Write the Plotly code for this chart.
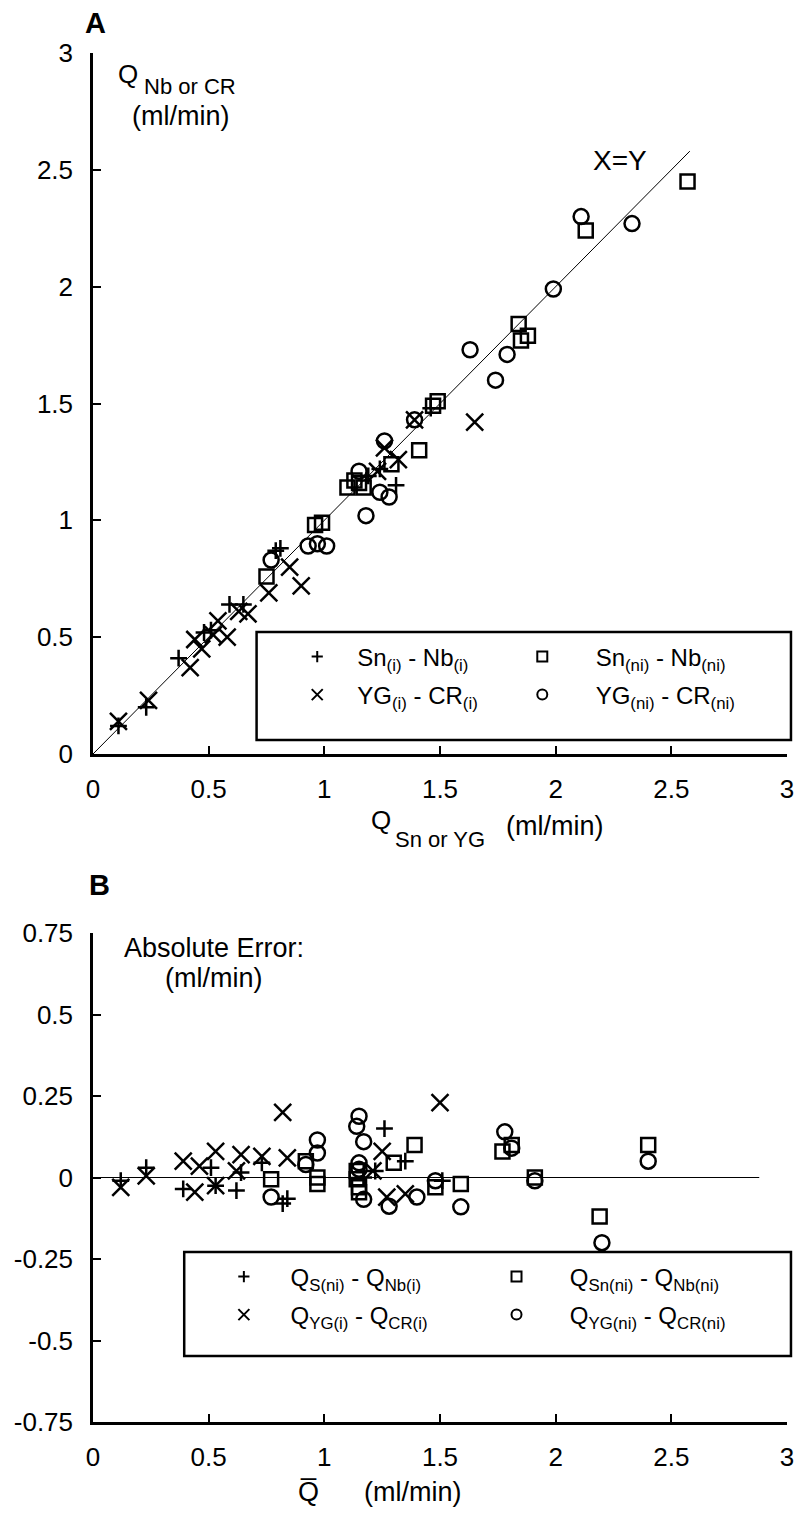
import plotly.graph_objects as go

# ---- panel A: Q_Nb or CR vs Q_Sn or YG (ml/min) ----
sn_i_x = [0.11, 0.23, 0.37, 0.48, 0.51, 0.59, 0.65, 0.79, 0.81, 1.19, 1.24, 1.31, 1.46]
sn_i_y = [0.12, 0.20, 0.41, 0.52, 0.53, 0.64, 0.64, 0.87, 0.88, 1.19, 1.22, 1.15, 1.48]

yg_i_x = [0.11, 0.24, 0.42, 0.44, 0.47, 0.52, 0.54, 0.58, 0.63, 0.67, 0.76, 0.85, 0.90,
          1.23, 1.26, 1.32, 1.39, 1.65]
yg_i_y = [0.14, 0.23, 0.37, 0.49, 0.45, 0.51, 0.57, 0.50, 0.61, 0.60, 0.69, 0.80, 0.72,
          1.21, 1.31, 1.26, 1.43, 1.42]

sn_ni_x = [0.75, 0.96, 0.99, 1.10, 1.13, 1.15, 1.17, 1.29, 1.41, 1.47, 1.49, 1.84, 1.85,
           1.88, 2.13, 2.57]
sn_ni_y = [0.76, 0.98, 0.99, 1.14, 1.17, 1.16, 1.14, 1.24, 1.30, 1.49, 1.51, 1.84, 1.77,
           1.79, 2.24, 2.45]

yg_ni_x = [0.77, 0.93, 0.97, 1.01, 1.15, 1.18, 1.24, 1.26, 1.28, 1.39, 1.63, 1.74, 1.79,
           1.99, 2.11, 2.33]
yg_ni_y = [0.83, 0.89, 0.90, 0.89, 1.21, 1.02, 1.12, 1.34, 1.10, 1.43, 1.73, 1.60, 1.71,
           1.99, 2.30, 2.27]

diag_x = [0, 2.58]
diag_y = [0, 2.58]

# ---- panel B: absolute error vs mean Q (ml/min) ----
err_s_x = [0.12, 0.23, 0.39, 0.51, 0.53, 0.62, 0.64, 0.73, 0.82, 0.84, 1.17, 1.22, 1.26,
           1.35, 1.51]
err_s_y = [-0.01, 0.03, -0.035, 0.03, -0.025, -0.04, 0.015, 0.045, -0.08, -0.065, 0.0,
           0.02, 0.15, 0.05, -0.01]

err_yg_i_x = [0.12, 0.23, 0.39, 0.44, 0.46, 0.53, 0.53, 0.62, 0.64, 0.73, 0.82, 0.84,
              1.21, 1.25, 1.27, 1.35, 1.50]
err_yg_i_y = [-0.03, 0.005, 0.05, -0.045, 0.035, 0.08, -0.025, 0.02, 0.07, 0.065, 0.20,
              0.06, 0.02, 0.08, -0.06, -0.05, 0.23]

err_sn_ni_x = [0.77, 0.92, 0.97, 0.97, 1.14, 1.14, 1.15, 1.15, 1.30, 1.39, 1.48, 1.59,
               1.77, 1.81, 1.91, 2.19, 2.40]
err_sn_ni_y = [-0.005, 0.05, 0.0, -0.02, 0.02, -0.005, -0.03, -0.045, 0.045, 0.10, -0.03,
               -0.02, 0.08, 0.10, 0.0, -0.12, 0.10]

err_yg_ni_x = [0.77, 0.92, 0.97, 0.97, 1.14, 1.15, 1.17, 1.15, 1.15, 1.17, 1.28, 1.40,
               1.48, 1.59, 1.78, 1.81, 1.91, 2.20, 2.40]
err_yg_ni_y = [-0.06, 0.04, 0.115, 0.075, 0.157, 0.188, 0.11, 0.045, 0.025, -0.067,
               -0.088, -0.06, -0.01, -0.09, 0.14, 0.09, -0.01, -0.20, 0.05]

zero_x = [0, 2.88]
zero_y = [0, 0]

a_ticks = [0, 0.5, 1, 1.5, 2, 2.5, 3]
a_ticktext = ["0", "0.5", "1", "1.5", "2", "2.5", "3"]
b_ticks = [-0.75, -0.5, -0.25, 0, 0.25, 0.5, 0.75]
b_ticktext = ["-0.75", "-0.5", "-0.25", "0", "0.25", "0.5", "0.75"]

legend_a = ["Sn<sub>(i)</sub> - Nb<sub>(i)</sub>", "Sn<sub>(ni)</sub> - Nb<sub>(ni)</sub>",
            "YG<sub>(i)</sub> - CR<sub>(i)</sub>", "YG<sub>(ni)</sub> - CR<sub>(ni)</sub>"]
legend_b = ["Q<sub>S(ni)</sub> - Q<sub>Nb(i)</sub>", "Q<sub>Sn(ni)</sub> - Q<sub>Nb(ni)</sub>",
            "Q<sub>YG(i)</sub> - Q<sub>CR(i)</sub>", "Q<sub>YG(ni)</sub> - Q<sub>CR(ni)</sub>"]

# ---- page geometry (pixels) ----
W, H = 806, 1515
ML, MR, MT, MB = 93, 13, 53, 93
PW, PH = W - ML - MR, H - MT - MB
FONT = "Liberation Sans, Arial, sans-serif"
NB = "\u00a0"


def fx(p):
    return (p - ML) / PW


def fy(p):
    return (H - MB - p) / PH


SYM = {
    "plus": ("cross-thin-open", 12, 8),
    "x": ("x-thin-open", 17, 11),
    "square": ("square-open", 14, 10),
    "circle": ("circle-open", 15, 10),
}

fig = go.Figure()


def points(x, y, kind, xa, ya):
    sym, size, _ = SYM[kind]
    fig.add_trace(go.Scatter(
        x=x, y=y, mode="markers", xaxis=xa, yaxis=ya, showlegend=False, cliponaxis=False,
        marker=dict(symbol=sym, size=size, color="black", line=dict(color="black", width=2.5)),
    ))


def ref_line(x, y, xa, ya):
    fig.add_trace(go.Scatter(x=x, y=y, mode="lines", xaxis=xa, yaxis=ya, showlegend=False,
                             line=dict(color="black", width=1), hoverinfo="skip"))


ref_line(diag_x, diag_y, "x", "y")
points(sn_i_x, sn_i_y, "plus", "x", "y")
points(yg_i_x, yg_i_y, "x", "x", "y")
points(sn_ni_x, sn_ni_y, "square", "x", "y")
points(yg_ni_x, yg_ni_y, "circle", "x", "y")

ref_line(zero_x, zero_y, "x2", "y2")
points(err_s_x, err_s_y, "plus", "x2", "y2")
points(err_yg_i_x, err_yg_i_y, "x", "x2", "y2")
points(err_sn_ni_x, err_sn_ni_y, "square", "x2", "y2")
points(err_yg_ni_x, err_yg_ni_y, "circle", "x2", "y2")

# legend items: one small legend per entry so the 2x2 grid can be placed freely
kinds = ["plus", "square", "x", "circle"]
leg_pos_a = [(299, 657, 3), (526, 657, 5), (299, 695, 3), (526, 695, 5)]
leg_pos_b = [(225, 1277, 4), (500, 1277, 5), (225, 1315, 4), (500, 1315, 5)]
legends = {}
n = 0
for names, pos in ((legend_a, leg_pos_a), (legend_b, leg_pos_b)):
    for name, kind, (lx, ly, pad) in zip(names, kinds, pos):
        n += 1
        key = "legend" if n == 1 else f"legend{n}"
        sym, _, lsize = SYM[kind]
        fig.add_trace(go.Scatter(
            x=[None], y=[None], mode="markers", name=NB * pad + name, legend=key,
            marker=dict(symbol=sym, size=lsize, color="black", line=dict(color="black", width=2)),
        ))
        legends[key] = dict(x=fx(lx), y=fy(ly), xanchor="left", yanchor="middle",
                            bgcolor="rgba(0,0,0,0)", borderwidth=0,
                            font=dict(family=FONT, size=24, color="black"))

axis_style = dict(
    showline=True, linecolor="black", linewidth=2.5, mirror=False,
    ticks="inside", ticklen=8, tickwidth=2, tickcolor="black",
    showgrid=False, zeroline=False,
    tickfont=dict(family=FONT, size=26, color="black"),
)

fig.update_layout(
    width=W, height=H,
    margin=dict(l=ML, r=MR, t=MT, b=MB),
    paper_bgcolor="white", plot_bgcolor="white",
    font=dict(family=FONT, size=24, color="black"),
    hovermode=False,
    xaxis=dict(axis_style, domain=[0, 1], anchor="y", range=[0, 3],
               tickvals=a_ticks, ticktext=a_ticktext, ticklabelstandoff=10),
    yaxis=dict(axis_style, domain=[fy(754), 1], anchor="x", range=[0, 3],
               tickvals=a_ticks, ticktext=a_ticktext, ticklabelstandoff=12),
    xaxis2=dict(axis_style, domain=[0, 1], anchor="y2", range=[0, 3],
                tickvals=a_ticks, ticktext=a_ticktext, ticklabelstandoff=10),
    yaxis2=dict(axis_style, domain=[0, fy(933)], anchor="x2", range=[-0.75, 0.75],
                tickvals=b_ticks, ticktext=b_ticktext, ticklabelstandoff=12),
    **legends,
)

box = dict(type="rect", xref="paper", yref="paper", line=dict(color="black", width=2.5),
           fillcolor="rgba(0,0,0,0)", layer="above")
fig.add_shape(box, x0=fx(258), x1=fx(797), y0=fy(740), y1=fy(632))
fig.add_shape(box, x0=fx(185), x1=fx(797), y0=fy(1356), y1=fy(1252))


def label(text, x, y, size=27, xanchor="center", bold=False):
    if bold:
        text = "<b>" + text + "</b>"
    fig.add_annotation(text=text, x=fx(x), y=fy(y), xref="paper", yref="paper",
                       xanchor=xanchor, yanchor="middle", showarrow=False,
                       font=dict(family=FONT, size=size, color="black"))


label("A", 96, 23, size=29, bold=True)
label("B", 100, 885, size=29, bold=True)

# y title, panel A
label("Q", 128, 74, size=26)
label("Nb or CR", 142, 86, size=22, xanchor="left")
label("(ml/min)", 181, 116)

# x title, panel A
label("Q", 383, 820, size=26)
label("Sn or YG", 396, 840, size=22, xanchor="left")
label("(ml/min)", 508, 826, xanchor="left")

label("X=Y", 625, 160, size=28)

# titles, panel B
label("Absolute Error:", 215, 948)
label("(ml/min)", 215, 978)
label("Q\u0305", 310, 1492)
label("(ml/min)", 364, 1492, xanchor="left")

fig.write_html("out.html", config={"displayModeBar": False},
               post_script="document.body.style.margin='0';")
